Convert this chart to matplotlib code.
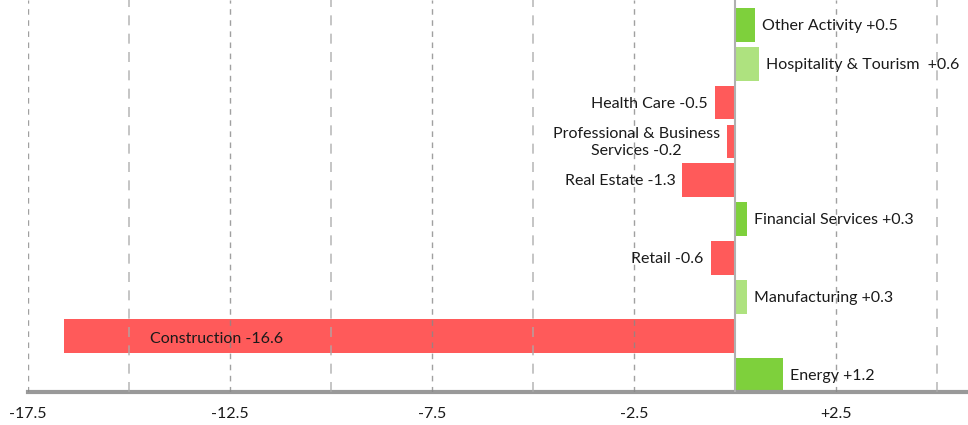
import matplotlib
matplotlib.use("Agg")
import matplotlib.pyplot as plt

plt.rcParams['font.family'] = ['Lato', 'DejaVu Sans']

categories = ["Energy", "Construction", "Manufacturing", "Retail", "Financial Services",
              "Real Estate", "Professional & Business\nServices", "Health Care",
              "Hospitality & Tourism ", "Other Activity"]
values = [1.2, -16.6, 0.3, -0.6, 0.3, -1.3, -0.2, -0.5, 0.6, 0.5]
value_labels = ["+1.2", "-16.6", "+0.3", "-0.6", "+0.3", "-1.3", "-0.2", "-0.5", "+0.6", "+0.5"]
colors = ["#7ED03C", "#FF5A5A", "#AEE27F", "#FF5A5A", "#7ED03C", "#FF5A5A", "#FF5A5A",
          "#FF5A5A", "#AEE27F", "#7ED03C"]
major_ticks = [-17.5, -12.5, -7.5, -2.5, 2.5]
major_labels = ["-17.5", "-12.5", "-7.5", "-2.5", "+2.5"]
minor_ticks = [-15, -10, -5, 0, 5]

fig = plt.figure(figsize=(9.68, 4.25), dpi=100)
ax = fig.add_axes([28/968, 1 - 392/425, 1 - 28/968, 392/425])
ax.set_xlim(-17.5, 5.77)
ax.set_ylim(-0.45, 9.64)

y = list(range(len(values)))
ax.barh(y, values, height=0.87, color=colors, zorder=2)

for xv in major_ticks:
    ax.axvline(xv, color="#888888", lw=1, ls=(0, (4, 4)), alpha=0.8, zorder=3)
for xv in minor_ticks:
    if xv == 0:
        continue
    ax.axvline(xv, color="#aaaaaa", lw=1.2, ls=(0, (6, 5)), alpha=0.8, zorder=3)
ax.axvline(0, color="#b0b0b0", lw=1.5, zorder=4)

fs = 11.5
for yi, (c, v, lab) in enumerate(zip(categories, values, value_labels)):
    text = f"{c} {lab}"
    if c.startswith("Construction"):
        ax.annotate(text, (v, yi), xytext=(62, -2.5), textcoords="offset points",
                    ha="left", va="center", fontsize=fs, color="#1a1a1a", zorder=5)
    elif v >= 0:
        ax.annotate(text, (v, yi), xytext=(5, -0.8), textcoords="offset points",
                    ha="left", va="center", fontsize=fs, color="#1a1a1a", zorder=5)
    else:
        ax.annotate(text, (v, yi), xytext=(-5, -0.8), textcoords="offset points",
                    ha="right", va="center", fontsize=fs, color="#1a1a1a",
                    multialignment="center", linespacing=1.35, zorder=5)

for s in ["top", "right", "left"]:
    ax.spines[s].set_visible(False)
ax.spines["bottom"].set_color("#999999")
ax.spines["bottom"].set_linewidth(3)
ax.set_yticks([])
ax.set_xticks(major_ticks)
ax.set_xticklabels(major_labels, fontsize=fs, color="#1a1a1a")
ax.tick_params(axis="x", length=0, pad=11)
ax.set_clip_on(False)

fig.savefig("out.png", dpi=100)
